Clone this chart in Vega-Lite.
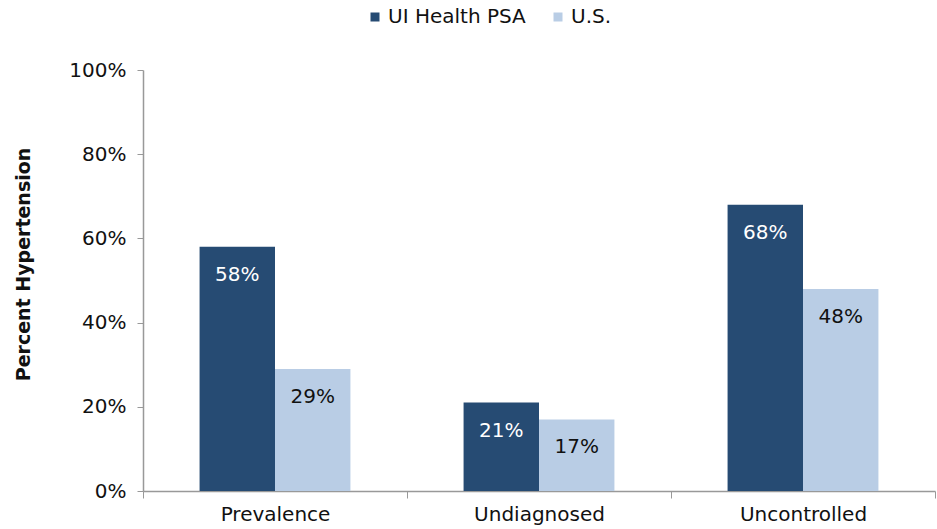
{
  "$schema": "https://vega.github.io/schema/vega-lite/v6.json",
  "width": 792,
  "height": 421,
  "autosize": {"type": "none"},
  "padding": {"left": 143, "top": 70, "right": 2, "bottom": 38},
  "background": "white",
  "data": {"values": [
    {"category": "Prevalence", "series": "UI Health PSA", "value": 58, "label": "58%"},
    {"category": "Prevalence", "series": "U.S.", "value": 29, "label": "29%"},
    {"category": "Undiagnosed", "series": "UI Health PSA", "value": 21, "label": "21%"},
    {"category": "Undiagnosed", "series": "U.S.", "value": 17, "label": "17%"},
    {"category": "Uncontrolled", "series": "UI Health PSA", "value": 68, "label": "68%"},
    {"category": "Uncontrolled", "series": "U.S.", "value": 48, "label": "48%"}
  ]},
  "config": {
    "font": "DejaVu Sans",
    "view": {"stroke": null},
    "axis": {"grid": false, "domainColor": "#999999", "tickColor": "#999999", "labelColor": "#111111", "labelFont": "DejaVu Sans", "labelFontSize": 20, "titleFont": "DejaVu Sans"}
  },
  "encoding": {
    "x": {
      "field": "category", "type": "nominal", "sort": ["Prevalence", "Undiagnosed", "Uncontrolled"],
      "scale": {"paddingInner": 0, "paddingOuter": 0},
      "axis": {"title": null, "labelAngle": 0, "tickBand": "extent", "tickSize": 7, "labelPadding": 6, "domainWidth": 1.5}
    },
    "xOffset": {"field": "series", "type": "nominal", "sort": ["UI Health PSA", "U.S."], "scale": {"paddingOuter": 0.75, "paddingInner": 0}},
    "y": {
      "field": "value", "type": "quantitative", "scale": {"domain": [0, 100]},
      "axis": {"title": "Percent Hypertension", "titleFontSize": 19, "titleFontWeight": "bold", "titleColor": "#111111", "titlePadding": 35, "titleY": 194, "values": [0, 20, 40, 60, 80, 100], "labelExpr": "datum.value + '%'", "tickSize": 6, "labelPadding": 11, "domainWidth": 1.5}
    }
  },
  "layer": [
    {
      "mark": {"type": "bar"},
      "encoding": {
        "color": {"field": "series", "type": "nominal", "sort": ["UI Health PSA", "U.S."],
          "scale": {"domain": ["UI Health PSA", "U.S."], "range": ["#264B73", "#B9CDE5"]},
          "legend": {"title": null, "orient": "none", "direction": "horizontal", "legendX": 222, "legendY": -63, "symbolType": "square", "symbolSize": 81, "symbolOpacity": 1, "labelFontSize": 20, "labelColor": "#111111", "labelFont": "DejaVu Sans", "columnPadding": 22, "labelOffset": 3}
        }
      }
    },
    {
      "mark": {"type": "text", "baseline": "middle", "dy": 28, "fontSize": 20, "font": "DejaVu Sans"},
      "encoding": {
        "text": {"field": "label"},
        "color": {"field": "series", "type": "nominal", "scale": {"domain": ["UI Health PSA", "U.S."], "range": ["#264B73", "#B9CDE5"]}, "legend": null},
        "fill": {"condition": {"test": "datum.series == 'UI Health PSA'", "value": "#ffffff"}, "value": "#111111"}
      }
    }
  ]
}
